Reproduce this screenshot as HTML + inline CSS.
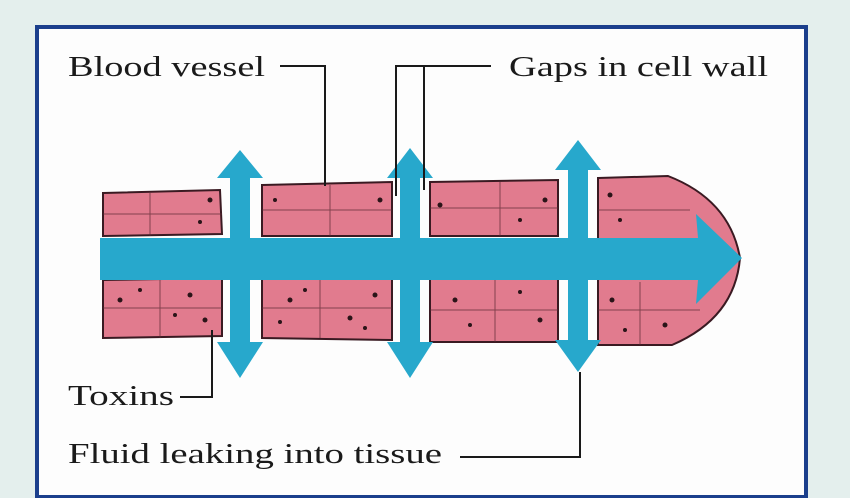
<!DOCTYPE html>
<html><head><style>
html,body{margin:0;padding:0;background:#e4efed;}
svg{display:block}
text{font-family:"Liberation Serif",serif;font-size:29px;fill:#1a1a1a}
</style></head><body>
<svg width="850" height="498" viewBox="0 0 850 498" xmlns="http://www.w3.org/2000/svg">
<rect x="0" y="0" width="850" height="498" fill="#e4efed"/>
<rect x="37" y="27" width="769" height="470" fill="#fdfdfd" stroke="#1b3f8c" stroke-width="4"/>
<g fill="#e17b8e" stroke="#3a1a22" stroke-width="2">
  <path d="M103 193 L220 190 L222 234 L103 236 Z"/>
  <path d="M262 185 L392 182 L392 236 L262 236 Z"/>
  <path d="M430 182 L558 180 L558 236 L430 236 Z"/>
  <path d="M598 178 L668 176 Q730 200 740 258 Q735 318 672 345 L598 345 L598 282 L598 236 Z"/>
  <path d="M103 280 L222 278 L222 336 L103 338 Z"/>
  <path d="M262 278 L392 278 L392 340 L262 338 Z"/>
  <path d="M430 278 L558 278 L558 342 L430 342 Z"/>
</g>
<g stroke="#5a2a32" stroke-width="1" fill="none" opacity="0.7">
  <path d="M103 214 H222 M150 193 V236 M262 210 H392 M330 185 V236 M430 208 H558 M500 182 V236 M598 210 H690 M103 308 H222 M160 280 V338 M262 308 H392 M320 278 V338 M430 310 H558 M495 278 V342 M598 310 H700 M640 282 V345"/>
</g>
<g fill="#2a1418">
  <circle cx="120" cy="300" r="2.5"/><circle cx="190" cy="295" r="2.5"/><circle cx="205" cy="320" r="2.5"/><circle cx="290" cy="300" r="2.5"/><circle cx="350" cy="318" r="2.5"/><circle cx="375" cy="295" r="2.5"/><circle cx="455" cy="300" r="2.5"/><circle cx="540" cy="320" r="2.5"/><circle cx="612" cy="300" r="2.5"/><circle cx="665" cy="325" r="2.5"/><circle cx="210" cy="200" r="2.5"/><circle cx="380" cy="200" r="2.5"/><circle cx="440" cy="205" r="2.5"/><circle cx="545" cy="200" r="2.5"/><circle cx="610" cy="195" r="2.5"/>
  <circle cx="140" cy="290" r="2"/><circle cx="175" cy="315" r="2"/><circle cx="280" cy="322" r="2"/><circle cx="305" cy="290" r="2"/><circle cx="365" cy="328" r="2"/><circle cx="470" cy="325" r="2"/><circle cx="520" cy="292" r="2"/><circle cx="625" cy="330" r="2"/><circle cx="200" cy="222" r="2"/><circle cx="275" cy="200" r="2"/><circle cx="520" cy="220" r="2"/><circle cx="620" cy="220" r="2"/>
</g>
<g fill="#27a8cc">
  <path d="M100 238 L698 238 L696 214 L742 258 L696 304 L698 280 L100 280 Z"/>
  <path d="M230 178 L217 178 L240 150 L263 178 L250 178 L250 342 L263 342 L240 378 L217 342 L230 342 Z"/>
  <path d="M400 178 L387 178 L410 148 L433 178 L420 178 L420 342 L433 342 L410 378 L387 342 L400 342 Z"/>
  <path d="M568 170 L555 170 L578 140 L601 170 L588 170 L588 340 L601 340 L578 372 L555 340 L568 340 Z"/>
</g>
<g stroke="#1a1a1a" stroke-width="2" fill="none">
  <path d="M280 66 H325 V186"/>
  <path d="M491 66 H396 V196"/>
  <path d="M424 66 V190"/>
  <path d="M180 397 H212 V330"/>
  <path d="M460 457 H580 V372"/>
</g>
<text x="68" y="76" textLength="197" lengthAdjust="spacingAndGlyphs">Blood vessel</text>
<text x="509" y="76" textLength="259" lengthAdjust="spacingAndGlyphs">Gaps in cell wall</text>
<text x="68" y="405" textLength="106" lengthAdjust="spacingAndGlyphs">Toxins</text>
<text x="68" y="463" textLength="374" lengthAdjust="spacingAndGlyphs">Fluid leaking into tissue</text>
</svg>
</body></html>
